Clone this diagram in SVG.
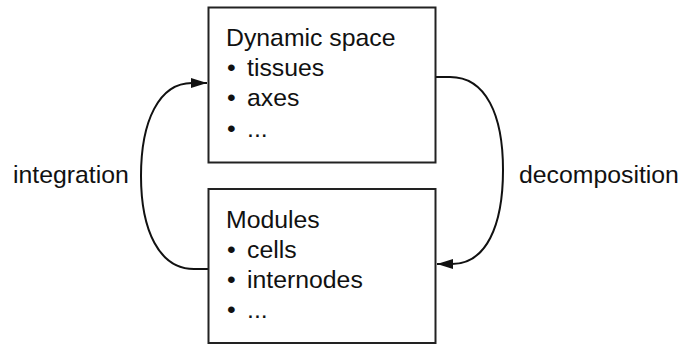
<svg xmlns="http://www.w3.org/2000/svg" width="683" height="345" viewBox="0 0 683 345">
<style>
.box{fill:#fff;stroke:#222;stroke-width:2}
.t{font-family:"Liberation Sans",Arial,sans-serif;font-size:24.8px;fill:#111}
.c{fill:none;stroke:#111;stroke-width:2}
</style>
<defs>
<marker id="ah" viewBox="0 0 16 10" refX="16" refY="5" markerWidth="16" markerHeight="10" markerUnits="userSpaceOnUse" orient="auto">
<path d="M0,0 L16,5 L0,10 Z" fill="#111"/>
</marker>
</defs>
<rect width="683" height="345" fill="#fff"/>
<g id="connectors">
<path class="c" d="M436,77 L450,77 C486,77 503,115 503,170 C503,226 486,264 452,264 L437,264" marker-end="url(#ah)"/>
<path class="c" d="M208,269 L194,269 C159,269 141,230 141,176 C141,121 159,83 192,83 L207,83" marker-end="url(#ah)"/>
</g>
<g id="dynamic-space">
<rect class="box" x="208.5" y="7.5" width="227" height="155"/>
<text class="t" x="226" y="46">Dynamic space</text>
<text class="t" x="227" y="76">• <tspan x="247">tissues</tspan></text>
<text class="t" x="227" y="106">• <tspan x="247">axes</tspan></text>
<text class="t" x="227" y="137">• <tspan x="247">...</tspan></text>
</g>
<g id="modules">
<rect class="box" x="208.5" y="189" width="227" height="154"/>
<text class="t" x="226" y="228">Modules</text>
<text class="t" x="227" y="258">• <tspan x="247">cells</tspan></text>
<text class="t" x="227" y="288">• <tspan x="247">internodes</tspan></text>
<text class="t" x="227" y="318">• <tspan x="247">...</tspan></text>
</g>
<g id="labels">
<text class="t" x="13" y="183">integration</text>
<text class="t" x="519" y="183">decomposition</text>
</g>
</svg>
